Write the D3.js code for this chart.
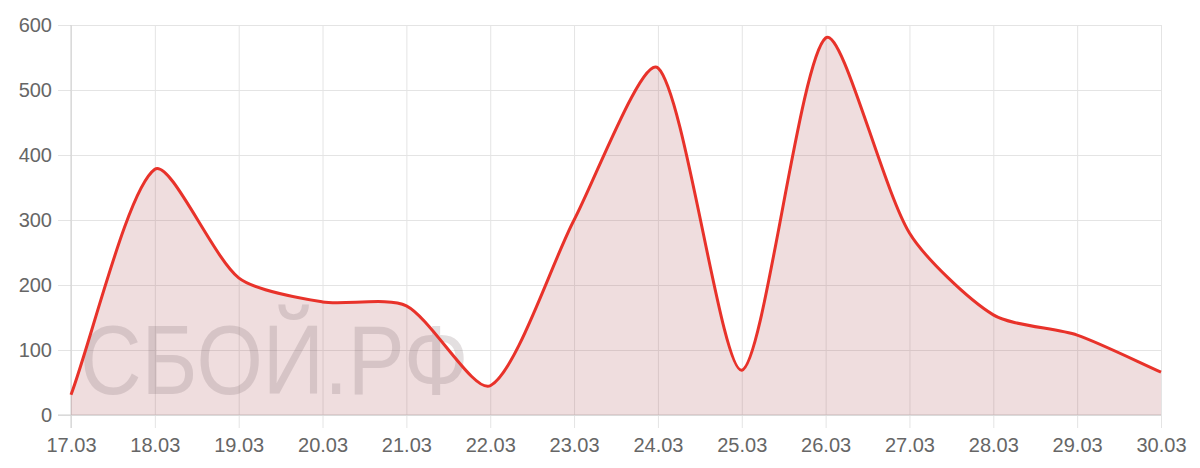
<!DOCTYPE html>
<meta charset="utf-8">
<script src="https://d3js.org/d3.v7.min.js"></script>
<style>
  body { margin: 0; background: #fff; }
  text { font-family: "Liberation Sans", Arial, sans-serif; }
</style>
<div id="chart"></div>
<script>

// chart data
var days = ["17.03", "18.03", "19.03", "20.03", "21.03", "22.03", "23.03",
            "24.03", "25.03", "26.03", "27.03", "28.03", "29.03", "30.03"];
var counts = [31, 378, 211, 174, 168, 45, 300, 534, 69, 580, 280, 154, 123, 66];
var yTicks = [0, 100, 200, 300, 400, 500, 600];

var W = 1200, H = 468;
var plotL = 71, plotR = 1161, plotT = 25, plotB = 415;

var svg = d3.select("#chart").append("svg")
    .attr("width", W)
    .attr("height", H);

var x = d3.scalePoint().domain(days).range([plotL, plotR]);
var y = d3.scaleLinear().domain([0, 600]).range([plotB, plotT]);

// y axis + horizontal grid
var yAxis = svg.append("g")
    .attr("transform", "translate(58,0)")
    .call(d3.axisLeft(y).tickValues(yTicks).tickSize(-(plotR - 58)).tickSizeOuter(0).tickPadding(6));
yAxis.select(".domain").remove();
yAxis.selectAll("line").attr("stroke", "#e4e4e4").attr("stroke-width", 1);
yAxis.selectAll("text").attr("fill", "#666").style("font-size", "20px");

// x axis + vertical grid
var xAxis = svg.append("g")
    .attr("transform", "translate(0,428)")
    .call(d3.axisBottom(x).tickSize(-(428 - plotT)).tickSizeOuter(0).tickPadding(10));
xAxis.select(".domain").remove();
xAxis.selectAll("line").attr("stroke", "#e4e4e4").attr("stroke-width", 1);
xAxis.selectAll("text").attr("fill", "#666").style("font-size", "20px");

// darker zero lines
svg.append("line")
    .attr("x1", plotL).attr("x2", plotL).attr("y1", plotT).attr("y2", 428)
    .attr("stroke", "#cfcfcf");
svg.append("line")
    .attr("x1", 58).attr("x2", plotR).attr("y1", y(0)).attr("y2", y(0))
    .attr("stroke", "#cfcfcf");

// chart.js style spline (distance weighted control points), lower tension
var tension = 0.25;
function curveSpline(context) {
  return {
    areaStart: function() { this._line = 0; },
    areaEnd: function() { this._line = NaN; },
    lineStart: function() { this._pts = []; },
    point: function(px, py) { this._pts.push({ x: +px, y: +py }); },
    lineEnd: function() {
      var pts = this._pts, n = pts.length;
      if (n) {
        if (this._line) context.lineTo(pts[0].x, pts[0].y); else context.moveTo(pts[0].x, pts[0].y);
        pts.forEach(function(p, i) {
          var prev = pts[i - 1] || p, next = pts[i + 1] || p;
          var d01 = Math.hypot(p.x - prev.x, p.y - prev.y);
          var d12 = Math.hypot(next.x - p.x, next.y - p.y);
          var s01 = d01 / (d01 + d12) || 0, s12 = d12 / (d01 + d12) || 0;
          var fa = tension * s01, fb = tension * s12;
          p.c0 = { x: p.x - fa * (next.x - prev.x), y: p.y - fa * (next.y - prev.y) };
          p.c1 = { x: p.x + fb * (next.x - prev.x), y: p.y + fb * (next.y - prev.y) };
          [p.c0, p.c1].forEach(function(c) {
            c.y = Math.max(plotT, Math.min(plotB, c.y));
          });
        });
        for (var i = 1; i < n; i++) {
          var a = pts[i - 1], b = pts[i];
          context.bezierCurveTo(a.c1.x, a.c1.y, b.c0.x, b.c0.y, b.x, b.y);
        }
      }
      if (this._line || (this._line !== 0 && n === 1)) context.closePath();
      this._line = 1 - this._line;
    }
  };
}

var area = d3.area()
    .x(function(d, i) { return x(days[i]); })
    .y0(y(0))
    .y1(function(d) { return y(d); })
    .curve(curveSpline);

var line = d3.line()
    .x(function(d, i) { return x(days[i]); })
    .y(function(d) { return y(d); })
    .curve(curveSpline);

svg.append("path")
    .datum(counts)
    .attr("d", area)
    .attr("fill", "rgba(175,85,90,0.2)");

// watermark
svg.append("text")
    .attr("transform", "translate(80,394) scale(0.87,1)")
    .text("СБОЙ.РФ")
    .style("font-size", "98px")
    .attr("fill", "rgba(128,110,112,0.22)");

svg.append("path")
    .datum(counts)
    .attr("d", line)
    .attr("fill", "none")
    .attr("stroke", "#e8322a")
    .attr("stroke-width", 3);

</script>
